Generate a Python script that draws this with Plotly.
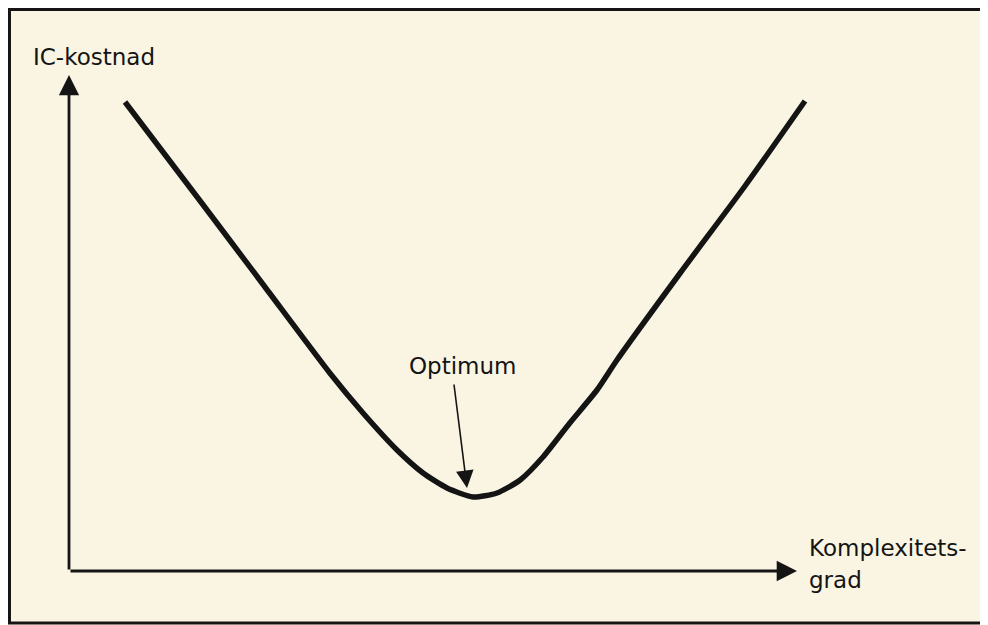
import plotly.graph_objects as go

# Curve (complexity vs IC cost, arbitrary units)
complexity = [7.0, 16.4, 24.5, 32.6, 36.75, 41.0, 44.25, 47.25, 50.5, 53.5,
              56.4, 59.25, 62.6, 66.0, 68.5, 76.4, 84.5, 92.0]
ic_cost = [93.8, 74.0, 56.8, 39.6, 31.6, 24.2, 19.6, 16.6, 14.8, 15.6,
           18.2, 22.8, 29.6, 36.2, 42.2, 59.6, 77.0, 94.0]

y_label = "IC-kostnad"
x_label_1 = "Komplexitets-"
x_label_2 = "grad"
opt_label = "Optimum"
opt_point = (49.75, 16.6)
opt_text = (49.25, 41.0)
x_axis_end = 91.0
y_axis_end = 99.2

BG = "#faf5e3"
INK = "#141414"
FONT = dict(family="DejaVu Sans", size=23, color=INK)

fig = go.Figure()
fig.add_trace(go.Scatter(
    x=complexity, y=ic_cost, mode="lines",
    line=dict(color=INK, width=5.5, shape="spline", smoothing=0.6),
    cliponaxis=False, hoverinfo="skip", showlegend=False,
))

annotations = [
    # axes with arrows
    dict(x=x_axis_end, y=0, ax=0, ay=0, xref="x", yref="y", axref="x", ayref="y",
         text="", showarrow=True, arrowhead=2, arrowsize=1.45, arrowwidth=2.8,
         arrowcolor=INK, standoff=0),
    dict(x=0, y=y_axis_end, ax=0, ay=0, xref="x", yref="y", axref="x", ayref="y",
         text="", showarrow=True, arrowhead=2, arrowsize=1.45, arrowwidth=2.8,
         arrowcolor=INK, standoff=0),
    # optimum pointer
    dict(x=opt_point[0], y=opt_point[1], ax=48.1, ay=37.6, xref="x", yref="y",
         axref="x", ayref="y", text="", showarrow=True, arrowhead=2,
         arrowsize=2.2, arrowwidth=1.6, arrowcolor=INK, standoff=0),
    dict(x=opt_text[0], y=opt_text[1], xref="x", yref="y", text=opt_label,
         showarrow=False, font=FONT, xanchor="center", yanchor="middle"),
    # axis labels
    dict(x=-0.047, y=1.028, xref="paper", yref="paper", text=y_label,
         showarrow=False, font=FONT, xanchor="left", yanchor="middle"),
    dict(x=0.9225, y=0.046, xref="paper", yref="paper", text=x_label_1,
         showarrow=False, font=FONT, xanchor="left", yanchor="middle"),
    dict(x=0.9225, y=-0.018, xref="paper", yref="paper", text=x_label_2,
         showarrow=False, font=FONT, xanchor="left", yanchor="middle"),
]

fig.update_layout(
    width=988, height=625,
    margin=dict(l=61, r=127, t=63, b=62),
    paper_bgcolor=BG, plot_bgcolor=BG,
    xaxis=dict(visible=False, range=[0, 100], fixedrange=True),
    yaxis=dict(visible=False, range=[0, 100], fixedrange=True),
    annotations=annotations,
    shapes=[dict(type="rect", xref="paper", yref="paper",
                 x0=-0.0744, x1=1.25, y0=-0.104, y1=1.123,
                 line=dict(color=INK, width=3), fillcolor="rgba(0,0,0,0)")],
    showlegend=False,
)

fig.write_html("out.html")
